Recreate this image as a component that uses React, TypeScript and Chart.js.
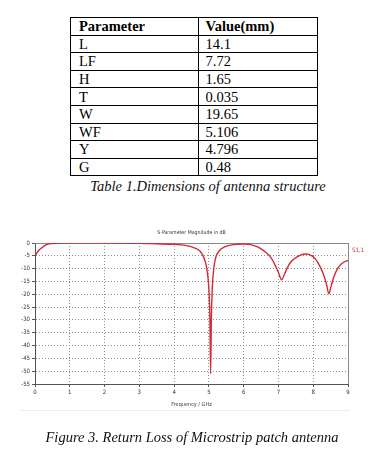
import React, { useEffect, useRef } from "react";
import { Chart, registerables } from "chart.js";

Chart.register(...registerables);

const tableParams = ["L", "LF", "H", "T", "W", "WF", "Y", "G"];
const tableValues = ["14.1", "7.72", "1.65", "0.035", "19.65", "5.106", "4.796", "0.48"];

const freqGHz = [
  0, 0.1, 0.2, 0.3, 0.45, 0.7, 1.0, 2.0, 3.0, 3.5, 4.0, 4.2, 4.4, 4.6, 4.75, 4.85, 4.92, 4.97, 5.0,
  5.03, 5.05, 5.07, 5.1, 5.14, 5.2, 5.3, 5.45, 5.7, 6.0, 6.2, 6.4, 6.5, 6.65, 6.78, 6.9, 7.0, 7.09,
  7.18, 7.25, 7.35, 7.45, 7.62, 7.8, 7.95, 8.05, 8.2, 8.3, 8.38, 8.45, 8.52, 8.6, 8.7, 8.8, 8.9, 9.0,
];
const s11dB = [
  -5.0, -3.0, -1.8, -0.8, -0.2, -0.05, 0, 0, -0.1, -0.3, -0.5, -0.7, -1.1, -2.0, -3.2, -5.5, -8.5, -13,
  -18, -30, -51, -30, -17, -10, -5.5, -3.0, -1.5, -0.6, -0.4, -0.6, -1.5, -2.3, -3.8, -5.6, -8.5, -11.5,
  -14.3, -12, -9.8, -7.5, -6.2, -4.8, -4.3, -4.9, -6.0, -9.3, -12.5, -16, -19.8, -16.5, -13, -10, -8.3,
  -7.3, -6.8,
];
const seriesLabel = "S1,1";
const chartTitle = "S-Parameter Magnitude in dB";
const xTitle = "Frequency / GHz";
const tableCaption = "Table 1.Dimensions of antenna structure";
const figureCaption = "Figure 3. Return Loss of Microstrip patch antenna";

const fontFamily = '"DejaVu Sans Condensed", "Liberation Sans Narrow", "Liberation Sans", sans-serif';
const tickFont = { family: fontFamily, size: 6 };

const serif = '"Liberation Serif", "Times New Roman", serif';

function ChartBox() {
  const ref = useRef<HTMLCanvasElement | null>(null);
  useEffect(() => {
    if (!ref.current) return;
    const boxPlugin = {
      id: "boxAndLegend",
      beforeDatasetsDraw(chart: any) {
        const { ctx, chartArea } = chart;
        ctx.save();
        ctx.strokeStyle = "#8a8a8a";
        ctx.lineWidth = 1;
        ctx.beginPath();
        ctx.moveTo(chartArea.left, Math.round(chartArea.top) + 0.5);
        ctx.lineTo(chartArea.right, Math.round(chartArea.top) + 0.5);
        ctx.moveTo(Math.round(chartArea.right) + 0.5, chartArea.top);
        ctx.lineTo(Math.round(chartArea.right) + 0.5, chartArea.bottom);
        ctx.stroke();
        ctx.restore();
      },
      afterDraw(chart: any) {
        const { ctx, chartArea } = chart;
        ctx.save();
        ctx.fillStyle = "#d42a35";
        ctx.font = `6px ${fontFamily}`;
        ctx.textBaseline = "middle";
        ctx.textAlign = "left";
        ctx.fillText(chart.data.datasets[0].label, chartArea.right + 4, chartArea.top + 7);
        ctx.restore();
      },
    };
    const chart = new Chart(ref.current, {
      type: "line",
      data: {
        datasets: [
          {
            label: seriesLabel,
            data: freqGHz.map((f, i) => ({ x: f, y: s11dB[i] })),
            borderColor: "#d42a35",
            borderWidth: 1.4,
            pointRadius: 0,
            cubicInterpolationMode: "monotone",
          },
        ],
      },
      options: {
        animation: false,
        responsive: true,
        maintainAspectRatio: false,
        layout: { padding: { left: 0, right: 22, top: 0, bottom: 0 } },
        plugins: {
          legend: { display: false },
          tooltip: { enabled: false },
          title: {
            display: true,
            text: chartTitle,
            fullSize: false,
            color: "#333",
            font: { family: fontFamily, size: 5.2, weight: "normal", lineHeight: 1.2 },
            padding: { top: 5, bottom: 6.8 },
          },
        },
        scales: {
          x: {
            type: "linear",
            min: 0,
            max: 9,
            ticks: { stepSize: 1, font: tickFont, color: "#333", padding: 2, maxRotation: 0 },
            grid: { color: "#8c8c8c", tickLength: 3, tickColor: "#555", lineWidth: 1 },
            border: { color: "#555", dash: [1, 2] },
            title: { display: true, text: xTitle, font: { family: fontFamily, size: 5.5 }, color: "#333", padding: { top: 0, bottom: 7.5 } },
            afterFit: (s: any) => {
              s.height = 31;
            },
          },
          y: {
            min: -55,
            max: 0,
            ticks: { stepSize: 5, font: tickFont, color: "#333", padding: 2 },
            grid: { color: "#8c8c8c", tickLength: 3, tickColor: "#555", lineWidth: 1 },
            border: { color: "#555", dash: [1, 2] },
            afterFit: (s: any) => {
              s.width = 35;
            },
          },
        },
      },
      plugins: [boxPlugin],
    } as any);
    return () => chart.destroy();
  }, []);
  return (
    <div style={{ position: "absolute", left: 0, top: 225, width: 370, height: 190 }}>
      <canvas ref={ref} />
    </div>
  );
}

export default function App() {
  const cell: React.CSSProperties = {
    border: "1px solid #000",
    padding: "0 8px",
    height: 16.6,
    lineHeight: "16px",
    verticalAlign: "middle",
    whiteSpace: "nowrap",
  };
  return (
    <div style={{ position: "absolute", left: 0, top: 0, width: 370, height: 453, background: "#fff", overflow: "hidden" }}>
      <table
        style={{
          position: "absolute",
          left: 70,
          top: 17,
          width: 247,
          borderCollapse: "collapse",
          tableLayout: "fixed",
          fontFamily: serif,
          fontSize: 14.5,
          color: "#000",
        }}
      >
        <colgroup>
          <col style={{ width: 127.5 }} />
          <col style={{ width: 119.5 }} />
        </colgroup>
        <tbody>
          <tr>
            <td style={{ ...cell, fontWeight: "bold" }}>Parameter</td>
            <td style={{ ...cell, fontWeight: "bold", paddingLeft: 7 }}>Value(mm)</td>
          </tr>
          {tableParams.map((p, i) => (
            <tr key={p}>
              <td style={cell}>{p}</td>
              <td style={{ ...cell, paddingLeft: 7 }}>{tableValues[i]}</td>
            </tr>
          ))}
        </tbody>
      </table>
      <div
        style={{
          position: "absolute",
          left: 0,
          top: 178,
          width: 416,
          textAlign: "center",
          fontFamily: serif,
          fontStyle: "italic",
          fontSize: 14.5,
          lineHeight: "16px",
          color: "#111",
        }}
      >
        {tableCaption}
      </div>
      <ChartBox />
      <div style={{ position: "absolute", left: 20, top: 410, width: 330, height: 1, background: "#ececec" }} />
      <div
        style={{
          position: "absolute",
          left: 0,
          top: 429,
          width: 384,
          textAlign: "center",
          fontFamily: serif,
          fontStyle: "italic",
          fontSize: 14.5,
          lineHeight: "16px",
          color: "#111",
        }}
      >
        {figureCaption}
      </div>
    </div>
  );
}
